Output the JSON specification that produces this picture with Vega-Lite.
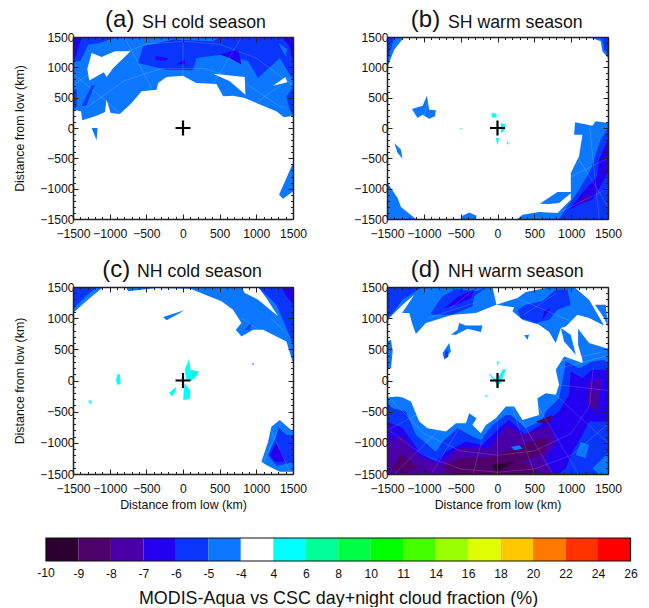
{"$schema":"https://vega.github.io/schema/vega-lite/v6.json","background":"white","padding":{"left":13,"top":8,"right":0,"bottom":0},
"config":{"numberFormat":"d","view":{"stroke":null},"font":"Liberation Sans","axis":{"grid":false,"labelOverlap":false,"labelFlush":false,"labelFont":"Liberation Sans","labelFontSize":12.2,"labelColor":"#111","titleFont":"Liberation Sans","titleFontSize":12.4,"titleFontWeight":"normal","titleColor":"#111"},"text":{"font":"Liberation Sans","align":"left","color":"#111"}},
"datasets":{
"cross":[{"x":0,"y":0}],
"meshA":[{"g":"1","x":0,"y":860},{"g":"1","x":0,"y":1500},{"g":"2","x":-420,"y":640},{"g":"2","x":-800,"y":1500},{"g":"3","x":-850,"y":240},{"g":"3","x":-1500,"y":900},{"g":"4","x":420,"y":740},{"g":"4","x":800,"y":1500},{"g":"5","x":1000,"y":420},{"g":"5","x":1500,"y":850},{"g":"6","x":-1500,"y":700},{"g":"6","x":-1000,"y":1150},{"g":"6","x":-500,"y":1380},{"g":"6","x":0,"y":1430},{"g":"6","x":500,"y":1380},{"g":"6","x":1000,"y":1150},{"g":"6","x":1500,"y":700},{"g":"7","x":-1300,"y":350},{"g":"7","x":-800,"y":780},{"g":"7","x":-300,"y":980},{"g":"7","x":300,"y":980},{"g":"7","x":800,"y":780},{"g":"7","x":1350,"y":330}],
"meshB":[{"g":"1","x":1100,"y":-500},{"g":"1","x":1500,"y":-1300},{"g":"2","x":1250,"y":30},{"g":"2","x":1380,"y":-1500},{"g":"3","x":1000,"y":-800},{"g":"3","x":1500,"y":-500},{"g":"4","x":820,"y":-1400},{"g":"4","x":1500,"y":-1000},{"g":"5","x":-1000,"y":200},{"g":"5","x":-930,"y":480}],
"meshC":[{"g":"1","x":1200,"y":-800},{"g":"1","x":1450,"y":-1450},{"g":"2","x":1350,"y":-650},{"g":"2","x":1100,"y":-1300},{"g":"3","x":800,"y":1000},{"g":"3","x":1450,"y":480},{"g":"4","x":1200,"y":1000},{"g":"4","x":1500,"y":650},{"g":"5","x":-1400,"y":1200},{"g":"5","x":-1150,"y":1500}],
"meshD":[{"g":"1","x":0,"y":-620},{"g":"1","x":0,"y":-1500},{"g":"2","x":-200,"y":-900},{"g":"2","x":-330,"y":-1500},{"g":"3","x":-500,"y":-730},{"g":"3","x":-900,"y":-1500},{"g":"4","x":-800,"y":-800},{"g":"4","x":-1400,"y":-1500},{"g":"5","x":-1100,"y":-550},{"g":"5","x":-1500,"y":-800},{"g":"6","x":200,"y":-430},{"g":"6","x":500,"y":-1500},{"g":"7","x":330,"y":-650},{"g":"7","x":750,"y":-1500},{"g":"8","x":540,"y":-400},{"g":"8","x":1100,"y":-1500},{"g":"9","x":780,"y":-220},{"g":"9","x":1500,"y":-1000},{"g":"10","x":830,"y":-70},{"g":"10","x":1500,"y":-160},{"g":"11","x":850,"y":200},{"g":"11","x":1500,"y":400},{"g":"12","x":-1450,"y":-300},{"g":"12","x":-1000,"y":-850},{"g":"12","x":-500,"y":-1130},{"g":"12","x":0,"y":-1200},{"g":"12","x":500,"y":-1130},{"g":"12","x":1000,"y":-850},{"g":"12","x":1250,"y":-400},{"g":"12","x":1300,"y":200},{"g":"13","x":-1500,"y":-780},{"g":"13","x":-1000,"y":-1200},{"g":"13","x":-500,"y":-1420},{"g":"13","x":0,"y":-1470},{"g":"13","x":500,"y":-1420},{"g":"13","x":1000,"y":-1200},{"g":"13","x":1500,"y":-700},{"g":"14","x":-650,"y":1150},{"g":"14","x":-350,"y":1430},{"g":"15","x":-950,"y":1000},{"g":"15","x":-300,"y":1250},{"g":"16","x":350,"y":1050},{"g":"16","x":800,"y":1400},{"g":"17","x":300,"y":1300},{"g":"17","x":1000,"y":950},{"g":"18","x":800,"y":300},{"g":"18","x":1400,"y":450}],
"a":[
{"g":"a1","v":-5,"x":-1500,"y":302},{"g":"a1","v":-5,"x":-1391,"y":275},{"g":"a1","v":-5,"x":-1373,"y":126},{"g":"a1","v":-5,"x":-1178,"y":203},{"g":"a1","v":-5,"x":-1065,"y":264},{"g":"a1","v":-5,"x":-1042,"y":467},{"g":"a1","v":-5,"x":-987,"y":247},{"g":"a1","v":-5,"x":-860,"y":231},{"g":"a1","v":-5,"x":-701,"y":412},{"g":"a1","v":-5,"x":-565,"y":605},{"g":"a1","v":-5,"x":-361,"y":632},{"g":"a1","v":-5,"x":-338,"y":742},{"g":"a1","v":-5,"x":-225,"y":841},{"g":"a1","v":-5,"x":-2,"y":863},{"g":"a1","v":-5,"x":180,"y":742},{"g":"a1","v":-5,"x":456,"y":726},{"g":"a1","v":-5,"x":547,"y":522},{"g":"a1","v":-5,"x":683,"y":533},{"g":"a1","v":-5,"x":842,"y":495},{"g":"a1","v":-5,"x":1024,"y":401},{"g":"a1","v":-5,"x":1273,"y":275},{"g":"a1","v":-5,"x":1378,"y":176},{"g":"a1","v":-5,"x":1500,"y":203},{"g":"a1","v":-5,"x":1500,"y":1500},{"g":"a1","v":-5,"x":-1500,"y":1500},
{"g":"a5","v":-6,"x":-1500,"y":1500},{"g":"a5","v":-6,"x":-900,"y":1500},{"g":"a5","v":-6,"x":-1130,"y":1400},{"g":"a5","v":-6,"x":-1290,"y":1375},{"g":"a5","v":-6,"x":-1400,"y":1100},{"g":"a5","v":-6,"x":-1500,"y":1100},
{"g":"a6","v":-6,"x":-611,"y":1072},{"g":"a6","v":-6,"x":-543,"y":1347},{"g":"a6","v":-6,"x":-134,"y":1457},{"g":"a6","v":-6,"x":411,"y":1430},{"g":"a6","v":-6,"x":502,"y":1500},{"g":"a6","v":-6,"x":1500,"y":1500},{"g":"a6","v":-6,"x":1500,"y":797},{"g":"a6","v":-6,"x":1319,"y":1155},{"g":"a6","v":-6,"x":1024,"y":825},{"g":"a6","v":-6,"x":888,"y":1100},{"g":"a6","v":-6,"x":547,"y":1210},{"g":"a6","v":-6,"x":184,"y":1155},{"g":"a6","v":-6,"x":138,"y":951},{"g":"a6","v":-6,"x":-225,"y":962},
{"g":"a2","v":-4,"x":-1246,"y":1237},{"g":"a2","v":-4,"x":-1110,"y":1171},{"g":"a2","v":-4,"x":-928,"y":1265},{"g":"a2","v":-4,"x":-715,"y":1265},{"g":"a2","v":-4,"x":-951,"y":990},{"g":"a2","v":-4,"x":-1042,"y":841},{"g":"a2","v":-4,"x":-1078,"y":918},{"g":"a2","v":-4,"x":-1278,"y":781},{"g":"a2","v":-4,"x":-1305,"y":973},
{"g":"a3","v":-4,"x":411,"y":896},{"g":"a3","v":-4,"x":842,"y":841},{"g":"a3","v":-4,"x":851,"y":550},{"g":"a3","v":-4,"x":638,"y":770},
{"g":"a4","v":-4,"x":1228,"y":698},{"g":"a4","v":-4,"x":1400,"y":841},{"g":"a4","v":-4,"x":1419,"y":753},
{"g":"a7","v":-6,"x":-1500,"y":630},{"g":"a7","v":-6,"x":-1450,"y":640},{"g":"a7","v":-6,"x":-1450,"y":350},{"g":"a7","v":-6,"x":-1500,"y":320},
{"g":"a8","v":-6,"x":-1382,"y":357},{"g":"a8","v":-6,"x":-1320,"y":370},{"g":"a8","v":-6,"x":-1200,"y":715},{"g":"a8","v":-6,"x":-1250,"y":690},
{"g":"a9","v":-6,"x":1410,"y":522},{"g":"a9","v":-6,"x":1500,"y":660},{"g":"a9","v":-6,"x":1500,"y":220},{"g":"a9","v":-6,"x":1455,"y":302},
{"g":"a10","v":-7,"x":-1500,"y":1500},{"g":"a10","v":-7,"x":-1380,"y":1500},{"g":"a10","v":-7,"x":-1470,"y":1150},{"g":"a10","v":-7,"x":-1500,"y":1100},
{"g":"a11","v":-7,"x":1350,"y":1500},{"g":"a11","v":-7,"x":1500,"y":1500},{"g":"a11","v":-7,"x":1500,"y":1100},{"g":"a11","v":-7,"x":1450,"y":1350},
{"g":"a12","v":-7,"x":502,"y":1210},{"g":"a12","v":-7,"x":751,"y":1292},{"g":"a12","v":-7,"x":797,"y":1045},{"g":"a12","v":-7,"x":638,"y":1155},
{"g":"a13","v":-7,"x":-361,"y":1182},{"g":"a13","v":-7,"x":-200,"y":1150},{"g":"a13","v":-7,"x":-240,"y":1100},{"g":"a13","v":-7,"x":-380,"y":1130},
{"g":"a14","v":-7,"x":-90,"y":1050},{"g":"a14","v":-7,"x":20,"y":1130},{"g":"a14","v":-7,"x":30,"y":1050},
{"g":"a15","v":-5,"x":1300,"y":1400},{"g":"a15","v":-5,"x":1420,"y":1300},{"g":"a15","v":-5,"x":1400,"y":1180},
{"g":"a16","v":-5,"x":-1246,"y":0},{"g":"a16","v":-5,"x":-1165,"y":0},{"g":"a16","v":-5,"x":-1178,"y":-203},
{"g":"a17","v":-5,"x":1500,"y":-578},{"g":"a17","v":-5,"x":1500,"y":-1045},{"g":"a17","v":-5,"x":1364,"y":-1166},{"g":"a17","v":-5,"x":1310,"y":-1100}
],
"b":[
{"g":"b1","v":-5,"x":-1500,"y":1500},{"g":"b1","v":-5,"x":-1266,"y":1500},{"g":"b1","v":-5,"x":-1400,"y":1292},{"g":"b1","v":-5,"x":-1500,"y":990},
{"g":"b2","v":-6,"x":-1500,"y":1500},{"g":"b2","v":-6,"x":-1400,"y":1500},{"g":"b2","v":-6,"x":-1460,"y":1250},{"g":"b2","v":-6,"x":-1500,"y":1100},
{"g":"b3","v":-5,"x":1243,"y":1500},{"g":"b3","v":-5,"x":1500,"y":1500},{"g":"b3","v":-5,"x":1500,"y":1155},{"g":"b3","v":-5,"x":1424,"y":1265},{"g":"b3","v":-5,"x":1401,"y":1430},
{"g":"b3b","v":-6,"x":1420,"y":1500},{"g":"b3b","v":-6,"x":1500,"y":1500},{"g":"b3b","v":-6,"x":1500,"y":1200},{"g":"b3b","v":-6,"x":1450,"y":1300},
{"g":"b4","v":-5,"x":-1162,"y":313},{"g":"b4","v":-5,"x":-1017,"y":368},{"g":"b4","v":-5,"x":-958,"y":533},{"g":"b4","v":-5,"x":-927,"y":302},{"g":"b4","v":-5,"x":-836,"y":291},{"g":"b4","v":-5,"x":-850,"y":192},{"g":"b4","v":-5,"x":-927,"y":154},{"g":"b4","v":-5,"x":-1017,"y":220},{"g":"b4","v":-5,"x":-1085,"y":165},
{"g":"b5","v":-5,"x":-1401,"y":-247},{"g":"b5","v":-5,"x":-1311,"y":-357},{"g":"b5","v":-5,"x":-1288,"y":-506},{"g":"b5","v":-5,"x":-1356,"y":-412},
{"g":"b6","v":-5,"x":-1500,"y":-896},{"g":"b6","v":-5,"x":-1356,"y":-1155},{"g":"b6","v":-5,"x":-1311,"y":-1303},{"g":"b6","v":-5,"x":-1107,"y":-1500},{"g":"b6","v":-5,"x":-1500,"y":-1500},
{"g":"b7","v":-5,"x":-497,"y":-1457},{"g":"b7","v":-5,"x":-384,"y":-1391},{"g":"b7","v":-5,"x":-285,"y":-1446},{"g":"b7","v":-5,"x":-294,"y":-1500},{"g":"b7","v":-5,"x":-497,"y":-1500},
{"g":"b8","v":-5,"x":271,"y":-1500},{"g":"b8","v":-5,"x":339,"y":-1430},{"g":"b8","v":-5,"x":565,"y":-1386},{"g":"b8","v":-5,"x":814,"y":-1402},{"g":"b8","v":-5,"x":995,"y":-1182},{"g":"b8","v":-5,"x":995,"y":-742},{"g":"b8","v":-5,"x":1107,"y":-467},{"g":"b8","v":-5,"x":1153,"y":-110},{"g":"b8","v":-5,"x":1040,"y":-110},{"g":"b8","v":-5,"x":1053,"y":93},{"g":"b8","v":-5,"x":1288,"y":38},{"g":"b8","v":-5,"x":1333,"y":110},{"g":"b8","v":-5,"x":1500,"y":82},{"g":"b8","v":-5,"x":1500,"y":-1500},
{"g":"b9","v":-5,"x":574,"y":-1248},{"g":"b9","v":-5,"x":814,"y":-1056},{"g":"b9","v":-5,"x":1017,"y":-1056},{"g":"b9","v":-5,"x":836,"y":-1237},{"g":"b9","v":-5,"x":700,"y":-1254},
{"g":"b10","v":-6,"x":836,"y":-1500},{"g":"b10","v":-6,"x":1107,"y":-1017},{"g":"b10","v":-6,"x":1266,"y":-687},{"g":"b10","v":-6,"x":1401,"y":-192},{"g":"b10","v":-6,"x":1500,"y":0},{"g":"b10","v":-6,"x":1500,"y":-1500},
{"g":"b11","v":-7,"x":972,"y":-1347},{"g":"b11","v":-7,"x":1153,"y":-1072},{"g":"b11","v":-7,"x":1356,"y":-797},{"g":"b11","v":-7,"x":1379,"y":-522},{"g":"b11","v":-7,"x":1500,"y":-192},{"g":"b11","v":-7,"x":1500,"y":-742},{"g":"b11","v":-7,"x":1288,"y":-1182},{"g":"b11","v":-7,"x":1153,"y":-1237},
{"g":"b12","v":-8,"x":1107,"y":-1237},{"g":"b12","v":-8,"x":1198,"y":-1127},{"g":"b12","v":-8,"x":1288,"y":-1127},{"g":"b12","v":-8,"x":1153,"y":-1250},
{"g":"b13","v":4,"x":-81,"y":247},{"g":"b13","v":4,"x":-14,"y":236},{"g":"b13","v":4,"x":-14,"y":181},{"g":"b13","v":4,"x":-68,"y":165},
{"g":"b14","v":4,"x":45,"y":82},{"g":"b14","v":4,"x":113,"y":55},{"g":"b14","v":4,"x":90,"y":-55},{"g":"b14","v":4,"x":45,"y":-82},
{"g":"b15","v":4,"x":-23,"y":-165},{"g":"b15","v":4,"x":23,"y":-165},{"g":"b15","v":4,"x":0,"y":-286},
{"g":"b16","v":4,"x":136,"y":-203},{"g":"b16","v":4,"x":158,"y":-275},{"g":"b16","v":4,"x":127,"y":-258},
{"g":"b17","v":4,"x":-506,"y":0},{"g":"b17","v":4,"x":-475,"y":0},{"g":"b17","v":4,"x":-497,"y":-27}
],
"c":[
{"g":"c1","v":-5,"x":-1500,"y":1500},{"g":"c1","v":-5,"x":-1087,"y":1500},{"g":"c1","v":-5,"x":-1269,"y":1324},{"g":"c1","v":-5,"x":-1500,"y":1083},
{"g":"c2","v":-6,"x":-1500,"y":1500},{"g":"c2","v":-6,"x":-1170,"y":1500},{"g":"c2","v":-6,"x":-1300,"y":1380},{"g":"c2","v":-6,"x":-1500,"y":1150},
{"g":"c3","v":-5,"x":-779,"y":1500},{"g":"c3","v":-5,"x":-747,"y":1431},{"g":"c3","v":-5,"x":-361,"y":1485},{"g":"c3","v":-5,"x":100,"y":1470},{"g":"c3","v":-5,"x":524,"y":1270},{"g":"c3","v":-5,"x":683,"y":1136},{"g":"c3","v":-5,"x":797,"y":922},{"g":"c3","v":-5,"x":720,"y":815},{"g":"c3","v":-5,"x":797,"y":707},{"g":"c3","v":-5,"x":956,"y":815},{"g":"c3","v":-5,"x":1092,"y":815},{"g":"c3","v":-5,"x":1410,"y":627},{"g":"c3","v":-5,"x":1500,"y":279},{"g":"c3","v":-5,"x":1500,"y":1500},
{"g":"c3w","v":-4,"x":797,"y":1500},{"g":"c3w","v":-4,"x":1024,"y":1500},{"g":"c3w","v":-4,"x":1137,"y":1324},{"g":"c3w","v":-4,"x":1296,"y":1029},{"g":"c3w","v":-4,"x":1024,"y":1297},{"g":"c3w","v":-4,"x":842,"y":1404},
{"g":"c4","v":-6,"x":1024,"y":1500},{"g":"c4","v":-6,"x":1500,"y":1500},{"g":"c4","v":-6,"x":1500,"y":573},{"g":"c4","v":-6,"x":1410,"y":841},{"g":"c4","v":-6,"x":1273,"y":1217},
{"g":"c5","v":-7,"x":1342,"y":1500},{"g":"c5","v":-7,"x":1500,"y":1500},{"g":"c5","v":-7,"x":1500,"y":1217},{"g":"c5","v":-7,"x":1410,"y":1351},
{"g":"c6","v":-5,"x":-270,"y":1018},{"g":"c6","v":-5,"x":16,"y":1126},{"g":"c6","v":-5,"x":-43,"y":1083},{"g":"c6","v":-5,"x":-225,"y":965},
{"g":"c6b","v":-6,"x":842,"y":815},{"g":"c6b","v":-6,"x":933,"y":922},{"g":"c6b","v":-6,"x":910,"y":815},
{"g":"c7","v":-5,"x":1069,"y":-1302},{"g":"c7","v":-5,"x":1115,"y":-1142},{"g":"c7","v":-5,"x":1160,"y":-981},{"g":"c7","v":-5,"x":1205,"y":-740},{"g":"c7","v":-5,"x":1319,"y":-632},{"g":"c7","v":-5,"x":1500,"y":-820},{"g":"c7","v":-5,"x":1500,"y":-1463},{"g":"c7","v":-5,"x":1319,"y":-1463},{"g":"c7","v":-5,"x":1137,"y":-1356},
{"g":"c8","v":-6,"x":1160,"y":-1195},{"g":"c8","v":-6,"x":1273,"y":-900},{"g":"c8","v":-6,"x":1296,"y":-740},{"g":"c8","v":-6,"x":1410,"y":-873},{"g":"c8","v":-6,"x":1500,"y":-873},{"g":"c8","v":-6,"x":1500,"y":-1308},{"g":"c8","v":-6,"x":1410,"y":-1335},{"g":"c8","v":-6,"x":1273,"y":-1367},
{"g":"c9","v":-7,"x":1183,"y":-1195},{"g":"c9","v":-7,"x":1273,"y":-1008},{"g":"c9","v":-7,"x":1365,"y":-1195},{"g":"c9","v":-7,"x":1387,"y":-1302},{"g":"c9","v":-7,"x":1250,"y":-1302},
{"g":"c10","v":4,"x":-892,"y":102},{"g":"c10","v":4,"x":-860,"y":102},{"g":"c10","v":4,"x":-851,"y":-59},{"g":"c10","v":4,"x":-897,"y":-70},{"g":"c10","v":4,"x":-915,"y":11},
{"g":"c11","v":4,"x":-1292,"y":-322},{"g":"c11","v":4,"x":-1246,"y":-322},{"g":"c11","v":4,"x":-1255,"y":-375},{"g":"c11","v":4,"x":-1278,"y":-364},
{"g":"c12","v":4,"x":84,"y":348},{"g":"c12","v":4,"x":102,"y":172},{"g":"c12","v":4,"x":216,"y":145},{"g":"c12","v":4,"x":184,"y":64},{"g":"c12","v":4,"x":116,"y":-5},{"g":"c12","v":4,"x":48,"y":-5},{"g":"c12","v":4,"x":25,"y":172},
{"g":"c13","v":4,"x":-89,"y":-96},{"g":"c13","v":4,"x":-148,"y":-257},{"g":"c13","v":4,"x":-190,"y":-200},
{"g":"c14","v":4,"x":25,"y":-43},{"g":"c14","v":4,"x":102,"y":-166},{"g":"c14","v":4,"x":93,"y":-295},{"g":"c14","v":4,"x":2,"y":-311},{"g":"c14","v":4,"x":11,"y":-177},
{"g":"c15","v":6,"x":116,"y":118},{"g":"c15","v":6,"x":184,"y":145},{"g":"c15","v":6,"x":138,"y":37},
{"g":"c16","v":6,"x":-134,"y":-177},{"g":"c16","v":6,"x":-89,"y":-113},{"g":"c16","v":6,"x":-125,"y":-230},
{"g":"c17","v":-5,"x":945,"y":275},{"g":"c17","v":-5,"x":965,"y":280},{"g":"c17","v":-5,"x":965,"y":255},{"g":"c17","v":-5,"x":950,"y":250}
],
"d":[
{"g":"d1","v":-5,"x":-1500,"y":1500},{"g":"d1","v":-5,"x":-68,"y":1500},{"g":"d1","v":-5,"x":-14,"y":1217},{"g":"d1","v":-5,"x":-294,"y":1083},{"g":"d1","v":-5,"x":-610,"y":1056},{"g":"d1","v":-5,"x":-972,"y":922},{"g":"d1","v":-5,"x":-1107,"y":745},{"g":"d1","v":-5,"x":-1153,"y":895},{"g":"d1","v":-5,"x":-1198,"y":1083},{"g":"d1","v":-5,"x":-1297,"y":1083},{"g":"d1","v":-5,"x":-1220,"y":1217},{"g":"d1","v":-5,"x":-1130,"y":1377},{"g":"d1","v":-5,"x":-1288,"y":1217},{"g":"d1","v":-5,"x":-1446,"y":1029},{"g":"d1","v":-5,"x":-1500,"y":949},
{"g":"d2","v":-6,"x":-1500,"y":1500},{"g":"d2","v":-6,"x":-1017,"y":1500},{"g":"d2","v":-6,"x":-1288,"y":1297},{"g":"d2","v":-6,"x":-1423,"y":1083},{"g":"d2","v":-6,"x":-1500,"y":1002},
{"g":"d3","v":-6,"x":-904,"y":1083},{"g":"d3","v":-6,"x":-746,"y":1351},{"g":"d3","v":-6,"x":-565,"y":1469},{"g":"d3","v":-6,"x":-294,"y":1431},{"g":"d3","v":-6,"x":-158,"y":1485},{"g":"d3","v":-6,"x":-316,"y":1351},{"g":"d3","v":-6,"x":-339,"y":1190},{"g":"d3","v":-6,"x":-610,"y":1056},{"g":"d3","v":-6,"x":-881,"y":1056},
{"g":"d4","v":-7,"x":-723,"y":1163},{"g":"d4","v":-7,"x":-520,"y":1351},{"g":"d4","v":-7,"x":-316,"y":1458},{"g":"d4","v":-7,"x":-362,"y":1324},{"g":"d4","v":-7,"x":-565,"y":1217},
{"g":"d5","v":-5,"x":-14,"y":1217},{"g":"d5","v":-5,"x":271,"y":1324},{"g":"d5","v":-5,"x":384,"y":1420},{"g":"d5","v":-5,"x":655,"y":1485},{"g":"d5","v":-5,"x":1040,"y":1500},{"g":"d5","v":-5,"x":1243,"y":1297},{"g":"d5","v":-5,"x":1446,"y":884},{"g":"d5","v":-5,"x":1243,"y":1002},{"g":"d5","v":-5,"x":1085,"y":1056},{"g":"d5","v":-5,"x":927,"y":868},{"g":"d5","v":-5,"x":859,"y":841},{"g":"d5","v":-5,"x":791,"y":600},{"g":"d5","v":-5,"x":701,"y":777},{"g":"d5","v":-5,"x":565,"y":895},{"g":"d5","v":-5,"x":339,"y":975},{"g":"d5","v":-5,"x":203,"y":1110},{"g":"d5","v":-5,"x":226,"y":1174},
{"g":"d5b","v":-5,"x":1324,"y":1217},{"g":"d5b","v":-5,"x":1469,"y":1217},{"g":"d5b","v":-5,"x":1500,"y":868},{"g":"d5b","v":-5,"x":1446,"y":1002},
{"g":"d5c","v":-5,"x":859,"y":841},{"g":"d5c","v":-5,"x":994,"y":734},{"g":"d5c","v":-5,"x":1062,"y":413},{"g":"d5c","v":-5,"x":904,"y":627},
{"g":"d5d","v":-6,"x":271,"y":1136},{"g":"d5d","v":-6,"x":384,"y":1217},{"g":"d5d","v":-6,"x":610,"y":1270},{"g":"d5d","v":-6,"x":791,"y":1458},{"g":"d5d","v":-6,"x":949,"y":1458},{"g":"d5d","v":-6,"x":994,"y":1217},{"g":"d5d","v":-6,"x":814,"y":1136},{"g":"d5d","v":-6,"x":701,"y":975},{"g":"d5d","v":-6,"x":520,"y":922},{"g":"d5d","v":-6,"x":316,"y":1002},
{"g":"d5e","v":-7,"x":633,"y":1110},{"g":"d5e","v":-7,"x":723,"y":1163},{"g":"d5e","v":-7,"x":610,"y":975},
{"g":"d6","v":-5,"x":-1500,"y":-273},{"g":"d6","v":-5,"x":-1356,"y":-257},{"g":"d6","v":-5,"x":-1288,"y":-273},{"g":"d6","v":-5,"x":-1175,"y":-338},{"g":"d6","v":-5,"x":-1062,"y":-659},{"g":"d6","v":-5,"x":-949,"y":-766},{"g":"d6","v":-5,"x":-700,"y":-820},{"g":"d6","v":-5,"x":-565,"y":-686},{"g":"d6","v":-5,"x":-429,"y":-686},{"g":"d6","v":-5,"x":-384,"y":-525},{"g":"d6","v":-5,"x":-285,"y":-606},{"g":"d6","v":-5,"x":-339,"y":-713},{"g":"d6","v":-5,"x":-226,"y":-847},{"g":"d6","v":-5,"x":-158,"y":-713},{"g":"d6","v":-5,"x":-23,"y":-606},{"g":"d6","v":-5,"x":113,"y":-418},{"g":"d6","v":-5,"x":226,"y":-418},{"g":"d6","v":-5,"x":339,"y":-632},{"g":"d6","v":-5,"x":565,"y":-552},{"g":"d6","v":-5,"x":542,"y":-284},{"g":"d6","v":-5,"x":655,"y":-204},{"g":"d6","v":-5,"x":791,"y":-230},{"g":"d6","v":-5,"x":836,"y":-70},{"g":"d6","v":-5,"x":791,"y":172},{"g":"d6","v":-5,"x":904,"y":386},{"g":"d6","v":-5,"x":1153,"y":279},{"g":"d6","v":-5,"x":1153,"y":332},{"g":"d6","v":-5,"x":1094,"y":573},{"g":"d6","v":-5,"x":1094,"y":831},{"g":"d6","v":-5,"x":1243,"y":600},{"g":"d6","v":-5,"x":1500,"y":509},{"g":"d6","v":-5,"x":1500,"y":-1500},{"g":"d6","v":-5,"x":-1500,"y":-1500},
{"g":"d7","v":-6,"x":-1500,"y":-364},{"g":"d7","v":-6,"x":-1423,"y":-445},{"g":"d7","v":-6,"x":-1243,"y":-498},{"g":"d7","v":-6,"x":-1107,"y":-873},{"g":"d7","v":-6,"x":-836,"y":-1142},{"g":"d7","v":-6,"x":-746,"y":-981},{"g":"d7","v":-6,"x":-542,"y":-766},{"g":"d7","v":-6,"x":-339,"y":-900},{"g":"d7","v":-6,"x":-226,"y":-954},{"g":"d7","v":-6,"x":-68,"y":-713},{"g":"d7","v":-6,"x":113,"y":-552},{"g":"d7","v":-6,"x":181,"y":-552},{"g":"d7","v":-6,"x":384,"y":-766},{"g":"d7","v":-6,"x":610,"y":-632},{"g":"d7","v":-6,"x":655,"y":-498},{"g":"d7","v":-6,"x":836,"y":-284},{"g":"d7","v":-6,"x":904,"y":118},{"g":"d7","v":-6,"x":926,"y":305},{"g":"d7","v":-6,"x":1107,"y":198},{"g":"d7","v":-6,"x":1288,"y":305},{"g":"d7","v":-6,"x":1446,"y":332},{"g":"d7","v":-6,"x":1500,"y":279},{"g":"d7","v":-6,"x":1500,"y":-1500},{"g":"d7","v":-6,"x":-1500,"y":-1500},
{"g":"d8","v":-7,"x":-1500,"y":-659},{"g":"d8","v":-7,"x":-1288,"y":-766},{"g":"d8","v":-7,"x":-1062,"y":-1142},{"g":"d8","v":-7,"x":-836,"y":-1302},{"g":"d8","v":-7,"x":-700,"y":-1142},{"g":"d8","v":-7,"x":-429,"y":-981},{"g":"d8","v":-7,"x":-203,"y":-1034},{"g":"d8","v":-7,"x":23,"y":-766},{"g":"d8","v":-7,"x":158,"y":-632},{"g":"d8","v":-7,"x":384,"y":-874},{"g":"d8","v":-7,"x":655,"y":-659},{"g":"d8","v":-7,"x":836,"y":-498},{"g":"d8","v":-7,"x":972,"y":-230},{"g":"d8","v":-7,"x":994,"y":145},{"g":"d8","v":-7,"x":1153,"y":37},{"g":"d8","v":-7,"x":1288,"y":172},{"g":"d8","v":-7,"x":1500,"y":172},{"g":"d8","v":-7,"x":1500,"y":-659},{"g":"d8","v":-7,"x":1243,"y":-659},{"g":"d8","v":-7,"x":1153,"y":-874},{"g":"d8","v":-7,"x":1017,"y":-1142},{"g":"d8","v":-7,"x":927,"y":-1410},{"g":"d8","v":-7,"x":836,"y":-1500},{"g":"d8","v":-7,"x":-1500,"y":-1500},
{"g":"d9","v":-8,"x":-1500,"y":-1000},{"g":"d9","v":-8,"x":-1311,"y":-880},{"g":"d9","v":-8,"x":-1062,"y":-1230},{"g":"d9","v":-8,"x":-780,"y":-1330},{"g":"d9","v":-8,"x":-520,"y":-1080},{"g":"d9","v":-8,"x":-113,"y":-1090},{"g":"d9","v":-8,"x":130,"y":-720},{"g":"d9","v":-8,"x":340,"y":-870},{"g":"d9","v":-8,"x":700,"y":-720},{"g":"d9","v":-8,"x":800,"y":-1000},{"g":"d9","v":-8,"x":640,"y":-1250},{"g":"d9","v":-8,"x":760,"y":-1500},{"g":"d9","v":-8,"x":-1500,"y":-1500},
{"g":"d10","v":-9,"x":-746,"y":-1400},{"g":"d10","v":-9,"x":-520,"y":-1250},{"g":"d10","v":-9,"x":-113,"y":-1230},{"g":"d10","v":-9,"x":475,"y":-974},{"g":"d10","v":-9,"x":701,"y":-920},{"g":"d10","v":-9,"x":610,"y":-1175},{"g":"d10","v":-9,"x":339,"y":-1302},{"g":"d10","v":-9,"x":565,"y":-1463},{"g":"d10","v":-9,"x":384,"y":-1500},{"g":"d10","v":-9,"x":-610,"y":-1500},
{"g":"d9b","v":-9,"x":-1450,"y":-1420},{"g":"d9b","v":-9,"x":-1300,"y":-1180},{"g":"d9b","v":-9,"x":-1080,"y":-1400},{"g":"d9b","v":-9,"x":-1250,"y":-1500},
{"g":"d11","v":-10,"x":-90,"y":-1356},{"g":"d11","v":-10,"x":226,"y":-1302},{"g":"d11","v":-10,"x":0,"y":-1463},
{"g":"d13","v":-9,"x":520,"y":-660},{"g":"d13","v":-9,"x":745,"y":-552},{"g":"d13","v":-9,"x":700,"y":-700},
{"g":"d14","v":-8,"x":1243,"y":-16},{"g":"d14","v":-8,"x":1424,"y":37},{"g":"d14","v":-8,"x":1356,"y":-498},{"g":"d14","v":-8,"x":1220,"y":-391},
{"g":"d15","v":-5,"x":1062,"y":-1195},{"g":"d15","v":-5,"x":1130,"y":-981},{"g":"d15","v":-5,"x":1243,"y":-1034},{"g":"d15","v":-5,"x":1198,"y":-1249},
{"g":"d16","v":-5,"x":1288,"y":-1410},{"g":"d16","v":-5,"x":1500,"y":-1168},{"g":"d16","v":-5,"x":1500,"y":-1500},{"g":"d16","v":-5,"x":1380,"y":-1500},
{"g":"d17","v":-5,"x":181,"y":-1061},{"g":"d17","v":-5,"x":300,"y":-1040},{"g":"d17","v":-5,"x":339,"y":-1095},{"g":"d17","v":-5,"x":230,"y":-1120},
{"g":"d18","v":-5,"x":-520,"y":922},{"g":"d18","v":-5,"x":-429,"y":884},{"g":"d18","v":-5,"x":-203,"y":884},{"g":"d18","v":-5,"x":-226,"y":777},{"g":"d18","v":-5,"x":-407,"y":831},{"g":"d18","v":-5,"x":-565,"y":734},{"g":"d18","v":-5,"x":-633,"y":734},{"g":"d18","v":-5,"x":-542,"y":815},
{"g":"d19","v":-5,"x":-655,"y":600},{"g":"d19","v":-5,"x":-633,"y":466},{"g":"d19","v":-5,"x":-723,"y":332},{"g":"d19","v":-5,"x":-746,"y":440},
{"g":"d20","v":-6,"x":-714,"y":440},{"g":"d20","v":-6,"x":-678,"y":493},{"g":"d20","v":-6,"x":-665,"y":386},{"g":"d20","v":-6,"x":-714,"y":350},
{"g":"d21","v":-5,"x":362,"y":724},{"g":"d21","v":-5,"x":429,"y":734},{"g":"d21","v":-5,"x":407,"y":654},
{"g":"d22","v":-5,"x":-1500,"y":627},{"g":"d22","v":-5,"x":-1446,"y":654},{"g":"d22","v":-5,"x":-1423,"y":466},{"g":"d22","v":-5,"x":-1446,"y":198},{"g":"d22","v":-5,"x":-1500,"y":172},
{"g":"d23","v":4,"x":-113,"y":118},{"g":"d23","v":4,"x":-45,"y":37},{"g":"d23","v":4,"x":0,"y":27},{"g":"d23","v":4,"x":68,"y":172},{"g":"d23","v":4,"x":113,"y":188},{"g":"d23","v":4,"x":45,"y":-43},{"g":"d23","v":4,"x":0,"y":-85},{"g":"d23","v":4,"x":-45,"y":-5},{"g":"d23","v":4,"x":-113,"y":91},
{"g":"d24","v":4,"x":-9,"y":305},{"g":"d24","v":4,"x":23,"y":305},{"g":"d24","v":4,"x":0,"y":225},
{"g":"d25","v":4,"x":-167,"y":-230},{"g":"d25","v":4,"x":-140,"y":-230},{"g":"d25","v":4,"x":-158,"y":-284}
]
},
"vconcat":[{"spacing":17,"vconcat":[
{"spacing":46,"hconcat":[
{"width":220,"height":182,"resolve":{"axis":{"x":"independent","y":"independent"}},"layer":[
{"data":{"name":"a"},"mark":{"type":"line","filled":true,"interpolate":"linear-closed","strokeWidth":0},"encoding":{"order":{"value":null},"detail":{"field":"g"},"x":{"field":"x","type":"quantitative","scale":{"domain":[-1500,1500],"nice":false},"axis":{"orient":"bottom","domain":true,"domainColor":"#222","domainWidth":1.5,"tickCount":6,"tickSize":-5,"tickColor":"#222","zindex":1,"title":null,"labelPadding":13}},"y":{"field":"y","type":"quantitative","scale":{"domain":[-1500,1500],"nice":false},"axis":{"orient":"left","domain":true,"domainColor":"#222","domainWidth":1.5,"tickCount":6,"tickSize":-5,"tickColor":"#222","zindex":1,"title":"Distance from low (km)","titlePadding":13,"labelPadding":4}},"color":{"field":"v","type":"ordinal","legend":null,"scale":{"domain":[-10,-9,-8,-7,-6,-5,-4,4,6,8,10,11,14,16,18,20,22,24],"range":["#2b0030","#50006a","#4a00a8","#2400f0","#0a35fa","#0b78ff","#ffffff","#00ffff","#00ff99","#00ff44","#00ff00","#44ff00","#99ff00","#ddff00","#ffc800","#ff7800","#ff3300","#ff0000"]}}}},
{"data":{"name":"meshA"},"mark":{"type":"line","stroke":"#ffffff","strokeWidth":0.6,"opacity":0.25},"encoding":{"order":{"value":null},"detail":{"field":"g"},"x":{"field":"x","type":"quantitative","axis":{"orient":"bottom","domain":false,"tickCount":30,"tickSize":-2.5,"tickColor":"#222","zindex":1,"title":null,"labels":false}},"y":{"field":"y","type":"quantitative","axis":{"orient":"left","domain":false,"tickCount":30,"tickSize":-2.5,"tickColor":"#222","zindex":1,"title":null,"labels":false}}}},
{"data":{"name":"cross"},"mark":{"type":"point","shape":"M-1,0L1,0M0,-1L0,1","size":225,"filled":false,"stroke":"#000","strokeWidth":2.2,"opacity":1},"encoding":{"x":{"field":"x","type":"quantitative","axis":{"orient":"top","domain":true,"domainColor":"#222","domainWidth":1.5,"tickCount":6,"tickSize":-5,"tickColor":"#222","zindex":1,"title":null,"labels":false}},"y":{"field":"y","type":"quantitative","axis":{"orient":"right","domain":true,"domainColor":"#222","domainWidth":1.5,"tickCount":6,"tickSize":-5,"tickColor":"#222","zindex":1,"title":null,"labels":false}}}},
{"data":{"values":[{"x":-1062,"y":1780,"t":"(a)"}]},"mark":{"type":"text","fontSize":24},"encoding":{"x":{"field":"x","type":"quantitative","axis":{"orient":"top","domain":false,"tickCount":30,"tickSize":-2.5,"tickColor":"#222","zindex":1,"title":null,"labels":false}},"y":{"field":"y","type":"quantitative","axis":{"orient":"right","domain":false,"tickCount":30,"tickSize":-2.5,"tickColor":"#222","zindex":1,"title":null,"labels":false}},"text":{"field":"t"}}},
{"data":{"values":[{"x":-558,"y":1736,"t":"SH cold season"}]},"mark":{"type":"text","fontSize":17.7},"encoding":{"x":{"field":"x","type":"quantitative","axis":null},"y":{"field":"y","type":"quantitative","axis":null},"text":{"field":"t"}}}
]},
{"width":221,"height":182,"resolve":{"axis":{"x":"independent","y":"independent"}},"layer":[
{"data":{"name":"b"},"mark":{"type":"line","filled":true,"interpolate":"linear-closed","strokeWidth":0},"encoding":{"order":{"value":null},"detail":{"field":"g"},"x":{"field":"x","type":"quantitative","scale":{"domain":[-1500,1500],"nice":false},"axis":{"orient":"bottom","domain":true,"domainColor":"#222","domainWidth":1.5,"tickCount":6,"tickSize":-5,"tickColor":"#222","zindex":1,"title":null,"labelPadding":13}},"y":{"field":"y","type":"quantitative","scale":{"domain":[-1500,1500],"nice":false},"axis":{"orient":"left","domain":true,"domainColor":"#222","domainWidth":1.5,"tickCount":6,"tickSize":-5,"tickColor":"#222","zindex":1,"title":null,"labelPadding":4}},"color":{"field":"v","type":"ordinal","legend":null,"scale":{"domain":[-10,-9,-8,-7,-6,-5,-4,4,6,8,10,11,14,16,18,20,22,24],"range":["#2b0030","#50006a","#4a00a8","#2400f0","#0a35fa","#0b78ff","#ffffff","#00ffff","#00ff99","#00ff44","#00ff00","#44ff00","#99ff00","#ddff00","#ffc800","#ff7800","#ff3300","#ff0000"]}}}},
{"data":{"name":"meshB"},"mark":{"type":"line","stroke":"#ffffff","strokeWidth":0.6,"opacity":0.25},"encoding":{"order":{"value":null},"detail":{"field":"g"},"x":{"field":"x","type":"quantitative","axis":{"orient":"bottom","domain":false,"tickCount":30,"tickSize":-2.5,"tickColor":"#222","zindex":1,"title":null,"labels":false}},"y":{"field":"y","type":"quantitative","axis":{"orient":"left","domain":false,"tickCount":30,"tickSize":-2.5,"tickColor":"#222","zindex":1,"title":null,"labels":false}}}},
{"data":{"name":"cross"},"mark":{"type":"point","shape":"M-1,0L1,0M0,-1L0,1","size":225,"filled":false,"stroke":"#000","strokeWidth":2.2,"opacity":1},"encoding":{"x":{"field":"x","type":"quantitative","axis":{"orient":"top","domain":true,"domainColor":"#222","domainWidth":1.5,"tickCount":6,"tickSize":-5,"tickColor":"#222","zindex":1,"title":null,"labels":false}},"y":{"field":"y","type":"quantitative","axis":{"orient":"right","domain":true,"domainColor":"#222","domainWidth":1.5,"tickCount":6,"tickSize":-5,"tickColor":"#222","zindex":1,"title":null,"labels":false}}}},
{"data":{"values":[{"x":-1177,"y":1780,"t":"(b)"}]},"mark":{"type":"text","fontSize":24},"encoding":{"x":{"field":"x","type":"quantitative","axis":{"orient":"top","domain":false,"tickCount":30,"tickSize":-2.5,"tickColor":"#222","zindex":1,"title":null,"labels":false}},"y":{"field":"y","type":"quantitative","axis":{"orient":"right","domain":false,"tickCount":30,"tickSize":-2.5,"tickColor":"#222","zindex":1,"title":null,"labels":false}},"text":{"field":"t"}}},
{"data":{"values":[{"x":-673,"y":1736,"t":"SH warm season"}]},"mark":{"type":"text","fontSize":17.7},"encoding":{"x":{"field":"x","type":"quantitative","axis":null},"y":{"field":"y","type":"quantitative","axis":null},"text":{"field":"t"}}}
]}
]},
{"spacing":46,"hconcat":[
{"width":220,"height":187,"resolve":{"axis":{"x":"independent","y":"independent"}},"layer":[
{"data":{"name":"c"},"mark":{"type":"line","filled":true,"interpolate":"linear-closed","strokeWidth":0},"encoding":{"order":{"value":null},"detail":{"field":"g"},"x":{"field":"x","type":"quantitative","scale":{"domain":[-1500,1500],"nice":false},"axis":{"orient":"bottom","domain":true,"domainColor":"#222","domainWidth":1.5,"tickCount":6,"tickSize":-5,"tickColor":"#222","zindex":1,"title":"Distance from low (km)","titlePadding":4,"labelPadding":13}},"y":{"field":"y","type":"quantitative","scale":{"domain":[-1500,1500],"nice":false},"axis":{"orient":"left","domain":true,"domainColor":"#222","domainWidth":1.5,"tickCount":6,"tickSize":-5,"tickColor":"#222","zindex":1,"title":"Distance from low (km)","titlePadding":13,"labelPadding":4}},"color":{"field":"v","type":"ordinal","legend":null,"scale":{"domain":[-10,-9,-8,-7,-6,-5,-4,4,6,8,10,11,14,16,18,20,22,24],"range":["#2b0030","#50006a","#4a00a8","#2400f0","#0a35fa","#0b78ff","#ffffff","#00ffff","#00ff99","#00ff44","#00ff00","#44ff00","#99ff00","#ddff00","#ffc800","#ff7800","#ff3300","#ff0000"]}}}},
{"data":{"name":"meshC"},"mark":{"type":"line","stroke":"#ffffff","strokeWidth":0.6,"opacity":0.25},"encoding":{"order":{"value":null},"detail":{"field":"g"},"x":{"field":"x","type":"quantitative","axis":{"orient":"bottom","domain":false,"tickCount":30,"tickSize":-2.5,"tickColor":"#222","zindex":1,"title":null,"labels":false}},"y":{"field":"y","type":"quantitative","axis":{"orient":"left","domain":false,"tickCount":30,"tickSize":-2.5,"tickColor":"#222","zindex":1,"title":null,"labels":false}}}},
{"data":{"name":"cross"},"mark":{"type":"point","shape":"M-1,0L1,0M0,-1L0,1","size":225,"filled":false,"stroke":"#000","strokeWidth":2.2,"opacity":1},"encoding":{"x":{"field":"x","type":"quantitative","axis":{"orient":"top","domain":true,"domainColor":"#222","domainWidth":1.5,"tickCount":6,"tickSize":-5,"tickColor":"#222","zindex":1,"title":null,"labels":false}},"y":{"field":"y","type":"quantitative","axis":{"orient":"right","domain":true,"domainColor":"#222","domainWidth":1.5,"tickCount":6,"tickSize":-5,"tickColor":"#222","zindex":1,"title":null,"labels":false}}}},
{"data":{"values":[{"x":-1100,"y":1773,"t":"(c)"}]},"mark":{"type":"text","fontSize":24},"encoding":{"x":{"field":"x","type":"quantitative","axis":{"orient":"top","domain":false,"tickCount":30,"tickSize":-2.5,"tickColor":"#222","zindex":1,"title":null,"labels":false}},"y":{"field":"y","type":"quantitative","axis":{"orient":"right","domain":false,"tickCount":30,"tickSize":-2.5,"tickColor":"#222","zindex":1,"title":null,"labels":false}},"text":{"field":"t"}}},
{"data":{"values":[{"x":-626,"y":1745,"t":"NH cold season"}]},"mark":{"type":"text","fontSize":17.7},"encoding":{"x":{"field":"x","type":"quantitative","axis":null},"y":{"field":"y","type":"quantitative","axis":null},"text":{"field":"t"}}}
]},
{"width":221,"height":187,"resolve":{"axis":{"x":"independent","y":"independent"}},"layer":[
{"data":{"name":"d"},"mark":{"type":"line","filled":true,"interpolate":"linear-closed","strokeWidth":0},"encoding":{"order":{"value":null},"detail":{"field":"g"},"x":{"field":"x","type":"quantitative","scale":{"domain":[-1500,1500],"nice":false},"axis":{"orient":"bottom","domain":true,"domainColor":"#222","domainWidth":1.5,"tickCount":6,"tickSize":-5,"tickColor":"#222","zindex":1,"title":"Distance from low (km)","titlePadding":4,"labelPadding":13}},"y":{"field":"y","type":"quantitative","scale":{"domain":[-1500,1500],"nice":false},"axis":{"orient":"left","domain":true,"domainColor":"#222","domainWidth":1.5,"tickCount":6,"tickSize":-5,"tickColor":"#222","zindex":1,"title":null,"labelPadding":4}},"color":{"field":"v","type":"ordinal","legend":null,"scale":{"domain":[-10,-9,-8,-7,-6,-5,-4,4,6,8,10,11,14,16,18,20,22,24],"range":["#2b0030","#50006a","#4a00a8","#2400f0","#0a35fa","#0b78ff","#ffffff","#00ffff","#00ff99","#00ff44","#00ff00","#44ff00","#99ff00","#ddff00","#ffc800","#ff7800","#ff3300","#ff0000"]}}}},
{"data":{"name":"meshD"},"mark":{"type":"line","stroke":"#ffffff","strokeWidth":0.6,"opacity":0.25},"encoding":{"order":{"value":null},"detail":{"field":"g"},"x":{"field":"x","type":"quantitative","axis":{"orient":"bottom","domain":false,"tickCount":30,"tickSize":-2.5,"tickColor":"#222","zindex":1,"title":null,"labels":false}},"y":{"field":"y","type":"quantitative","axis":{"orient":"left","domain":false,"tickCount":30,"tickSize":-2.5,"tickColor":"#222","zindex":1,"title":null,"labels":false}}}},
{"data":{"name":"cross"},"mark":{"type":"point","shape":"M-1,0L1,0M0,-1L0,1","size":225,"filled":false,"stroke":"#000","strokeWidth":2.2,"opacity":1},"encoding":{"x":{"field":"x","type":"quantitative","axis":{"orient":"top","domain":true,"domainColor":"#222","domainWidth":1.5,"tickCount":6,"tickSize":-5,"tickColor":"#222","zindex":1,"title":null,"labels":false}},"y":{"field":"y","type":"quantitative","axis":{"orient":"right","domain":true,"domainColor":"#222","domainWidth":1.5,"tickCount":6,"tickSize":-5,"tickColor":"#222","zindex":1,"title":null,"labels":false}}}},
{"data":{"values":[{"x":-1177,"y":1773,"t":"(d)"}]},"mark":{"type":"text","fontSize":24},"encoding":{"x":{"field":"x","type":"quantitative","axis":{"orient":"top","domain":false,"tickCount":30,"tickSize":-2.5,"tickColor":"#222","zindex":1,"title":null,"labels":false}},"y":{"field":"y","type":"quantitative","axis":{"orient":"right","domain":false,"tickCount":30,"tickSize":-2.5,"tickColor":"#222","zindex":1,"title":null,"labels":false}},"text":{"field":"t"}}},
{"data":{"values":[{"x":-673,"y":1745,"t":"NH warm season"}]},"mark":{"type":"text","fontSize":17.7},"encoding":{"x":{"field":"x","type":"quantitative","axis":null},"y":{"field":"y","type":"quantitative","axis":null},"text":{"field":"t"}}}
]}
]}
]},
{"width":557.5,"height":23,"layer":[
{"data":{"values":[{"i":0,"i2":1,"v":-10},{"i":1,"i2":2,"v":-9},{"i":2,"i2":3,"v":-8},{"i":3,"i2":4,"v":-7},{"i":4,"i2":5,"v":-6},{"i":5,"i2":6,"v":-5},{"i":6,"i2":7,"v":-4},{"i":7,"i2":8,"v":4},{"i":8,"i2":9,"v":6},{"i":9,"i2":10,"v":8},{"i":10,"i2":11,"v":10},{"i":11,"i2":12,"v":11},{"i":12,"i2":13,"v":14},{"i":13,"i2":14,"v":16},{"i":14,"i2":15,"v":18},{"i":15,"i2":16,"v":20},{"i":16,"i2":17,"v":22},{"i":17,"i2":18,"v":24}]},"mark":{"type":"rect"},"encoding":{"x":{"field":"i","type":"quantitative","scale":{"domain":[0.832,18],"nice":false,"zero":false},"axis":{"orient":"bottom","title":"MODIS-Aqua vs CSC day+night cloud fraction (%)","titleFontSize":17.9,"titleX":265,"titleY":28,"titleAnchor":"middle","tickCount":30,"values":[1,2,3,4,5,6,7,8,9,10,11,12,13,14,15,16,17,18],"labelExpr":"['-10','-9','-8','-7','-6','-5','-4','4','6','8','10','11','14','16','18','20','22','24','26'][datum.value]","labelFontSize":12.2,"labelPadding":4,"labelBaseline":"middle","tickSize":8,"tickOpacity":0,"domain":false}},"x2":{"field":"i2"},"color":{"field":"v","type":"ordinal","legend":null,"scale":{"domain":[-10,-9,-8,-7,-6,-5,-4,4,6,8,10,11,14,16,18,20,22,24],"range":["#2b0030","#50006a","#4a00a8","#2400f0","#0a35fa","#0b78ff","#ffffff","#00ffff","#00ff99","#00ff44","#00ff00","#44ff00","#99ff00","#ddff00","#ffc800","#ff7800","#ff3300","#ff0000"]}}}},
{"data":{"values":[{"i":0,"i2":18}]},"mark":{"type":"rect","fill":null,"stroke":"#111","strokeWidth":1.2},"encoding":{"x":{"field":"i","type":"quantitative"},"x2":{"field":"i2"}}},
{"data":{"values":[{"i":0,"t":"-10"}]},"mark":{"type":"text","align":"center","baseline":"middle","dy":23.5,"fontSize":12.2},"encoding":{"x":{"field":"i","type":"quantitative"},"text":{"field":"t"}}}
]}
],"spacing":26}
